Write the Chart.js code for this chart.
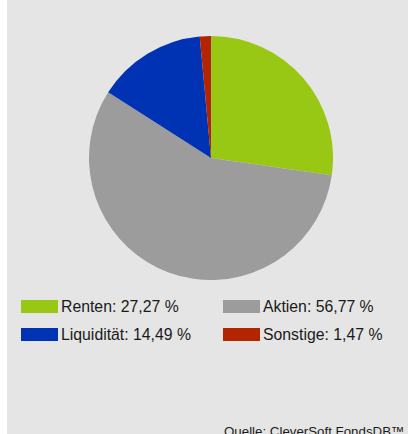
<!DOCTYPE html>
<html>
<head>
<meta charset="utf-8">
<script src="https://cdn.jsdelivr.net/npm/chart.js@4"></script>
<style>
    body { margin: 0; background: #ffffff; width: 408px; height: 434px; overflow: hidden; position: relative; font-family: "Liberation Sans", Arial, sans-serif; }
    #panel { position: absolute; left: 7px; top: 0; width: 401px; height: 434px; background: #e5e5e5; overflow: hidden; }
    #pieBox { position: absolute; left: 82px; top: 36px; width: 244px; height: 244px; }
    #legend { position: absolute; left: 14px; top: 299px; width: 390px; }
    .item { position: absolute; display: flex; align-items: center; font-size: 15.8px; color: #1a1a1a; white-space: nowrap; height: 15px; }
    .swatch { width: 37px; height: 13px; margin-right: 3px; }
    #source { position: absolute; left: 217px; top: 424px; font-size: 13.3px; color: #1a1a1a; white-space: nowrap; }
</style>
</head>
<body>
<div id="panel">
    <div id="pieBox"><canvas id="pieChart"></canvas></div>
    <div id="legend"></div>
    <div id="source">Quelle: CleverSoft FondsDB™</div>
</div>
<script>
    // Data
    let categories = ["Renten", "Aktien", "Liquidität", "Sonstige"];
    let shares = [27.27, 56.77, 14.49, 1.47];
    let sliceColors = ["#99c814", "#9c9c9c", "#0033b4", "#b32400"];

    // Pie
    let ctx = document.getElementById("pieChart").getContext("2d");
    new Chart(ctx, {
        type: "pie",
        data: {
            labels: categories,
            datasets: [{
                data: shares,
                backgroundColor: sliceColors,
                borderWidth: 0
            }]
        },
        options: {
            responsive: true,
            maintainAspectRatio: false,
            animation: false,
            layout: { padding: 0 },
            plugins: {
                legend: { display: false },
                tooltip: { enabled: false }
            }
        }
    });

    // Legend (two columns)
    let legend = document.getElementById("legend");
    categories.forEach((name, i) => {
        let item = document.createElement("div");
        item.className = "item";
        item.style.left = (i % 2 === 0 ? 0 : 202) + "px";
        item.style.top = (Math.floor(i / 2) * 28) + "px";
        let swatch = document.createElement("span");
        swatch.className = "swatch";
        swatch.style.background = sliceColors[i];
        let label = document.createElement("span");
        label.innerText = name + ": " + shares[i].toFixed(2).replace(".", ",") + " %";
        item.appendChild(swatch);
        item.appendChild(label);
        legend.appendChild(item);
    });
</script>
</body>
</html>
